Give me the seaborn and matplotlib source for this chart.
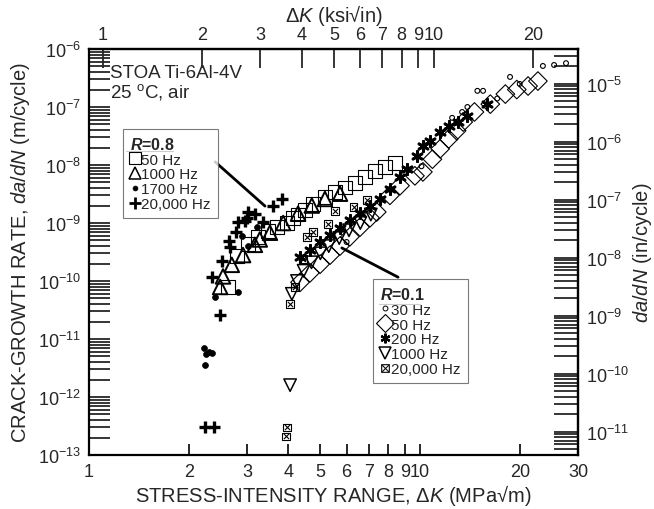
import numpy as np
import pandas as pd
import matplotlib
matplotlib.use("Agg")
import matplotlib.pyplot as plt
import seaborn as sns
from matplotlib.ticker import LogLocator, FixedLocator, FixedFormatter, NullFormatter, NullLocator
from matplotlib.lines import Line2D

# ---------------- data (ΔK in MPa√m, da/dN in m/cycle) ----------------
r08_50_k = [2.63, 2.80, 3.02, 3.24, 3.47, 3.70, 3.96, 4.13, 4.28, 4.49, 4.75, 5.16, 5.54, 5.93, 6.36, 6.82, 7.31, 7.84, 8.40]
r08_50_r = [7.9e-11, 2.7e-10, 4.4e-10, 5.8e-10, 7.3e-10, 8.5e-10, 1.0e-9, 1.2e-9, 1.4e-9, 1.7e-9, 2.1e-9, 2.8e-9, 3.4e-9, 4.1e-9, 4.9e-9, 6.2e-9, 7.9e-9, 9.3e-9, 1.1e-8]
r08_1000_k = [2.49, 2.54, 2.70, 2.92, 3.17, 3.28, 3.52, 3.86, 4.28, 4.71, 5.16, 5.73]
r08_1000_r = [7.9e-11, 1.2e-10, 1.9e-10, 2.8e-10, 4.2e-10, 5.2e-10, 6.8e-10, 1.0e-9, 1.45e-9, 2.0e-9, 2.6e-9, 3.2e-9]
r08_1700_k = [2.40, 2.82, 3.02, 2.90, 3.22, 2.22, 2.26, 2.30, 2.36, 2.24]
r08_1700_r = [5.2e-11, 6.5e-11, 4.0e-10, 6.0e-10, 8.5e-10, 7.0e-12, 5.5e-12, 6.0e-12, 5.8e-12, 3.5e-12]
r08_20k_k = [3.60, 3.83, 3.02, 3.17, 3.00, 2.82, 2.96, 3.36, 2.78, 2.65, 2.67, 2.52, 2.35, 2.49, 2.24, 2.39]
r08_20k_r = [1.95e-9, 2.6e-9, 1.55e-9, 1.45e-9, 1.23e-9, 1.05e-9, 1.07e-9, 1.05e-9, 6.9e-10, 4.9e-10, 3.9e-10, 2.2e-10, 1.17e-10, 2.6e-11, 3.0e-13, 3.0e-13]

r01_30_k = [6.0, 10.1, 12.5, 13.4, 13.9, 14.9, 15.5, 17.1, 18.7, 20.0, 23.5, 25.4, 27.6]
r01_30_r = [4.7e-10, 9.5e-9, 6.5e-8, 8.2e-8, 1.0e-7, 1.9e-7, 1.9e-7, 1.4e-7, 3.3e-7, 2.5e-7, 5.1e-7, 5.3e-7, 5.7e-7]
r01_50_k = [4.34, 4.65, 4.99, 5.35, 5.73, 6.14, 6.59, 7.06, 7.40, 8.11, 8.70, 9.65, 10.2, 10.9, 11.5, 12.2, 12.9, 13.5, 14.6, 16.3, 18.1, 19.6, 21.2, 22.7]
r01_50_r = [9.5e-11, 1.38e-10, 1.95e-10, 2.8e-10, 4.0e-10, 5.8e-10, 8.5e-10, 1.23e-9, 1.55e-9, 3.0e-9, 4.4e-9, 6.5e-9, 7.6e-9, 1.26e-8, 1.9e-8, 2.8e-8, 3.9e-8, 5.5e-8, 8.2e-8, 1.12e-7, 1.67e-7, 2.0e-7, 2.3e-7, 2.8e-7]
r01_200_k = [4.34, 4.65, 4.99, 5.35, 5.73, 6.14, 6.59, 7.06, 7.57, 8.11, 8.70, 9.14, 9.80, 10.2, 10.7, 11.5, 12.2, 13.0, 13.9, 15.9]
r01_200_r = [2.6e-10, 3.4e-10, 4.7e-10, 6.2e-10, 8.1e-10, 1.12e-9, 1.48e-9, 1.95e-9, 2.6e-9, 3.9e-9, 6.2e-9, 8.5e-9, 1.44e-8, 2.1e-8, 2.6e-8, 3.7e-8, 4.7e-8, 5.5e-8, 6.9e-8, 1.12e-7]
r01_1000_k = [4.05, 4.10, 4.25, 4.45, 4.70, 5.00, 5.30, 5.70, 6.10, 6.60, 7.10]
r01_1000_r = [1.6e-12, 6.0e-11, 1.0e-10, 1.5e-10, 2.1e-10, 3.0e-10, 4.0e-10, 5.5e-10, 7.5e-10, 1.0e-9, 1.4e-9]
r01_20k_k = [3.96, 3.94, 4.05, 4.19, 4.43, 4.55, 4.75, 5.27, 5.53, 6.30, 6.90]
r01_20k_r = [3.0e-13, 2.1e-13, 4.0e-11, 7.9e-11, 2.4e-10, 5.8e-10, 7.0e-10, 9.6e-10, 1.6e-9, 1.9e-9, 2.5e-9]

y_ticks_left = [1e-13, 1e-12, 1e-11, 1e-10, 1e-9, 1e-8, 1e-7, 1e-6]
y_labels_left = ["$10^{-13}$", "$10^{-12}$", "$10^{-11}$", "$10^{-10}$", "$10^{-9}$", "$10^{-8}$", "$10^{-7}$", "$10^{-6}$"]
y_ticks_right = [1e-11, 1e-10, 1e-9, 1e-8, 1e-7, 1e-6, 1e-5]
y_labels_right = ["$10^{-11}$", "$10^{-10}$", "$10^{-9}$", "$10^{-8}$", "$10^{-7}$", "$10^{-6}$", "$10^{-5}$"]
x_ticks = [1, 2, 3, 4, 5, 6, 7, 8, 9, 10, 20, 30]
x_labels = ["1", "2", "3", "4", "5", "6", "7", "8", "9", "10", "20", "30"]
top_ticks = [1, 2, 3, 4, 5, 6, 7, 8, 9, 10, 20]
top_labels = ["1", "2", "3", "4", "5", "6", "7", "8", "9", "10", "20"]

MPA_TO_KSI = 0.9101
M_TO_IN = 39.37

# ---------------- style ----------------
sns.set_theme(style="white")
plt.rcParams['font.family'] = ['Liberation Sans', 'DejaVu Sans']
plt.rcParams['mathtext.fontset'] = 'custom'
plt.rcParams['mathtext.rm'] = 'Liberation Sans'
plt.rcParams['mathtext.it'] = 'Liberation Sans:italic'
plt.rcParams['mathtext.bf'] = 'Liberation Sans:bold'
if 'mathtext.bfit' in plt.rcParams:
    plt.rcParams['mathtext.bfit'] = 'Liberation Sans:italic:bold'
    R_SYM = "$\\mathbfit{R}$"
else:
    R_SYM = "$\\it{R}$"

fig = plt.figure(figsize=(6.54, 5.10), dpi=100)
ax = fig.add_axes([89/654, 1-456/510, (578-89)/654, (456-50)/510])
ax.set_xscale('log')
ax.set_yscale('log')
ax.set_xlim(1, 30)
ax.set_ylim(1e-13, 1e-6)

def pts(k, r, marker, s, fc, lw, ec='black'):
    sns.scatterplot(x=k, y=r, marker=marker, s=s, facecolors=fc, edgecolors=ec,
                    linewidths=lw, ax=ax, zorder=3, legend=False)

# R = 0.1
pts(r01_50_k, r01_50_r, 'D', 90, 'none', 0.8)
pts(r01_30_k, r01_30_r, 'o', 12, 'none', 0.8)
pts(r01_1000_k, r01_1000_r, 'v', 80, 'none', 1.1)
pts(r01_20k_k, r01_20k_r, 's', 30, 'none', 0.8)
pts(r01_20k_k, r01_20k_r, 'x', 14, 'black', 0.8)
pts(r01_200_k, r01_200_r, (6, 2, 0), 55, 'black', 2.0)
# R = 0.8
pts(r08_50_k, r08_50_r, 's', 100, 'none', 0.8)
pts(r08_1000_k, r08_1000_r, '^', 110, 'none', 1.4)
pts(r08_1700_k, r08_1700_r, 'o', 18, 'black', 0.5)
pts(r08_20k_k, r08_20k_r, '+', 80, 'black', 2.4)

# ---------------- axes styling ----------------
for sp in ax.spines.values():
    sp.set_linewidth(1.6)
    sp.set_color('black')

ax.xaxis.set_major_locator(FixedLocator(x_ticks))
ax.xaxis.set_major_formatter(FixedFormatter(x_labels))
ax.xaxis.set_minor_locator(NullLocator())
ax.tick_params(axis='x', which='major', direction='in', length=8, width=1.4,
               labelsize=13, pad=6, bottom=True, top=False)

ax.yaxis.set_major_locator(FixedLocator(y_ticks_left))
ax.yaxis.set_major_formatter(FixedFormatter(y_labels_left))
ax.yaxis.set_minor_locator(LogLocator(base=10, subs=np.arange(2, 10)))
ax.yaxis.set_minor_formatter(NullFormatter())
ax.tick_params(axis='y', which='both', direction='in', length=15, width=1.3,
               labelsize=13, pad=6, left=True, right=False)

ax.set_xlabel("STRESS-INTENSITY RANGE, Δ$K$ (MPa√m)", fontsize=14.5, labelpad=1)
ax.set_ylabel("CRACK-GROWTH RATE, $da/dN$ (m/cycle)", fontsize=14.5, labelpad=4)

# top axis in ksi√in
top = ax.secondary_xaxis('top', functions=(lambda x: x * MPA_TO_KSI, lambda x: x / MPA_TO_KSI))
top.set_xscale('log')
top.xaxis.set_major_locator(FixedLocator(top_ticks))
top.xaxis.set_major_formatter(FixedFormatter(top_labels))
top.xaxis.set_minor_locator(NullLocator())
top.tick_params(axis='x', which='major', direction='in', length=14, width=1.3, labelsize=13, pad=4)
top.set_xlabel("Δ$K$ (ksi√in)", fontsize=14.5, labelpad=4)
top.spines['top'].set_linewidth(1.6)

# right axis in in/cycle
right = ax.secondary_yaxis('right', functions=(lambda y: y * M_TO_IN, lambda y: y / M_TO_IN))
right.set_yscale('log')
right.yaxis.set_major_locator(FixedLocator(y_ticks_right))
right.yaxis.set_major_formatter(FixedFormatter(y_labels_right))
right.yaxis.set_minor_locator(LogLocator(base=10, subs=np.arange(2, 10)))
right.yaxis.set_minor_formatter(NullFormatter())
right.tick_params(axis='y', which='both', direction='in', length=17, width=1.3, labelsize=13, pad=6)
right.set_ylabel("$da/dN$ (in/cycle)", fontsize=14.5, labelpad=1)
right.spines['right'].set_linewidth(1.6)

# material text
ax.text(0.043, 0.941, "STOA Ti-6Al-4V", transform=ax.transAxes, fontsize=13.5, va='center', ha='left')
ax.text(0.043, 0.897, "25 $^{\\rm o}$C, air", transform=ax.transAxes, fontsize=13.5, va='center', ha='left')

# legends
def mk(marker, ms, fc, mew):
    return Line2D([], [], linestyle='none', marker=marker, markersize=ms,
                  markerfacecolor=fc, markeredgecolor='black', markeredgewidth=mew)

h08 = [mk('s', 9, 'none', 0.8), mk('^', 9, 'none', 1.1), mk('o', 3.5, 'black', 0.5), mk('+', 8, 'black', 2.0)]
l08 = ["50 Hz", "1000 Hz", "1700 Hz", "20,000 Hz"]
leg1 = ax.legend(h08, l08, loc='upper left', bbox_to_anchor=(0.0695, 0.803), title=R_SYM + "=0.8",
                 prop={'size': 11}, title_fontproperties={'size': 11.5, 'weight': 'bold'},
                 frameon=True, fancybox=False, edgecolor='0.35',
                 handlelength=0.7, handletextpad=0.05, labelspacing=0.05, borderpad=0.45, borderaxespad=0)
leg1.get_frame().set_linewidth(0.8)
leg1._legend_box.align = "left"
ax.add_artist(leg1)

h01 = [mk('o', 3.5, 'none', 0.7), mk('D', 9, 'none', 0.8), mk((6, 2, 0), 7, 'black', 1.6),
       mk('v', 8, 'none', 1.1), mk('$\\boxtimes$', 6, 'black', 0.3)]
l01 = ["30 Hz", "50 Hz", "200 Hz", "1000 Hz", "20,000 Hz"]
leg2 = ax.legend(h01, l01, loc='upper left', bbox_to_anchor=(0.581, 0.433), title=R_SYM + "=0.1",
                 prop={'size': 11}, title_fontproperties={'size': 11.5, 'weight': 'bold'},
                 frameon=True, fancybox=False, edgecolor='0.35',
                 handlelength=0.7, handletextpad=0.05, labelspacing=0.05, borderpad=0.45, borderaxespad=0)
leg2.get_frame().set_linewidth(0.8)
leg2._legend_box.align = "left"

# underline of legend titles and leader lines
ax.plot([0.075, 0.172], [0.749, 0.749], transform=ax.transAxes, color='black', lw=0.8)
ax.plot([0.593, 0.677], [0.372, 0.372], transform=ax.transAxes, color='black', lw=0.8)
ax.plot([0.258, 0.360], [0.722, 0.613], transform=ax.transAxes, color='black', lw=2)
ax.plot([0.517, 0.632], [0.510, 0.438], transform=ax.transAxes, color='black', lw=2)

fig.savefig("out.png", dpi=100)
